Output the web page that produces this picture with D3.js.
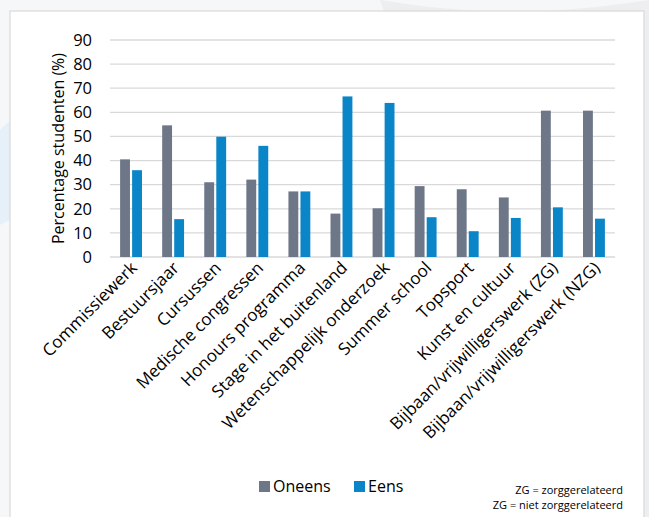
<!DOCTYPE html>
<html>
<head>
<meta charset="utf-8">
<script src="https://cdn.jsdelivr.net/npm/d3@7"></script>
<style>
  body { margin: 0; background: #eef0f2; }
  svg { display: block; font-family: "Open Sans", sans-serif; }
</style>
</head>
<body>
<svg id="chart" width="649" height="517"></svg>
<script>
var categories = ["Commissiewerk", "Bestuursjaar", "Cursussen", "Medische congressen",
    "Honours programma", "Stage in het buitenland", "Wetenschappelijk onderzoek",
    "Summer school", "Topsport", "Kunst en cultuur",
    "Bijbaan/vrijwilligerswerk (ZG)", "Bijbaan/vrijwilligerswerk (NZG)"];
var series = ["Oneens", "Eens"];
var oneens = [40.5, 54.6, 31.0, 32.1, 27.2, 18.0, 20.2, 29.4, 28.1, 24.7, 60.7, 60.7];
var eens = [36.0, 15.7, 49.9, 46.1, 27.2, 66.6, 63.9, 16.5, 10.7, 16.2, 20.6, 15.9];
var yTicks = [0, 10, 20, 30, 40, 50, 60, 70, 80, 90];
var colors = ["#6d7788", "#0a85c7"];
var notes = ["ZG = zorggerelateerd", "ZG = niet zorggerelateerd"];

var svg = d3.select("#chart");

// background decoration
svg.append("rect").attr("width", 649).attr("height", 517).attr("fill", "#f6f7f8");
svg.append("path")
    .attr("d", "M380,0 C500,20 580,10 649,0 L649,517 L560,517 Z")
    .attr("fill", "#eceef0");
svg.append("path")
    .attr("d", "M0,130 C20,110 40,100 60,95 L60,200 C40,205 20,215 0,225 Z")
    .attr("fill", "#e6f0f8");

// white panel
svg.append("rect")
    .attr("x", 10).attr("y", 11)
    .attr("width", 634).attr("height", 520)
    .attr("fill", "#ffffff")
    .attr("stroke", "#d9d9d9")
    .attr("stroke-width", 1.2);

var x0 = d3.scaleBand()
    .domain(categories)
    .range([110, 615])
    .paddingInner(0.48)
    .paddingOuter(0.24);

var x1 = d3.scaleBand()
    .domain(series)
    .range([0, x0.bandwidth()])
    .paddingInner(0.18);

var y = d3.scaleLinear()
    .domain([0, 90])
    .range([257, 40]);

// gridlines
svg.append("g")
    .selectAll("line")
    .data(yTicks)
    .enter().append("line")
    .attr("x1", 110).attr("x2", 615)
    .attr("y1", function (d) { return y(d); })
    .attr("y2", function (d) { return y(d); })
    .attr("stroke", "#d9d9d9")
    .attr("stroke-width", 1.3);

// y axis labels
var yAxis = svg.append("g")
    .attr("transform", "translate(100,0)")
    .call(d3.axisLeft(y).tickValues(yTicks).tickSize(0).tickPadding(8));
yAxis.select(".domain").remove();
yAxis.selectAll("text")
    .style("font-family", "Open Sans, sans-serif")
    .style("font-size", "16.5px")
    .attr("fill", "#000");

svg.append("text")
    .attr("transform", "translate(58," + y(45) + ") rotate(-90)")
    .attr("text-anchor", "middle")
    .attr("dy", "0.35em")
    .style("font-size", "16px")
    .text("Percentage studenten (%)");

// bars
var rows = categories.map(function (c, i) {
    return { cat: c, values: [oneens[i], eens[i]] };
});

var groups = svg.append("g")
    .selectAll("g")
    .data(rows)
    .enter().append("g")
    .attr("transform", function (d) { return "translate(" + x0(d.cat) + ",0)"; });

groups.selectAll("rect")
    .data(function (d) {
        return d.values.map(function (v, j) { return { key: series[j], value: v, j: j }; });
    })
    .enter().append("rect")
    .attr("x", function (d) { return x1(d.key); })
    .attr("width", x1.bandwidth())
    .attr("y", function (d) { return y(d.value); })
    .attr("height", function (d) { return y(0) - y(d.value); })
    .attr("fill", function (d) { return colors[d.j]; });

// category labels
svg.append("g")
    .selectAll("text")
    .data(categories)
    .enter().append("text")
    .attr("transform", function (d) {
        return "translate(" + (x0(d) + x0.bandwidth() / 2 + 7) + ",269) rotate(-45)";
    })
    .attr("text-anchor", "end")
    .style("font-size", "17px")
    .text(function (d) { return d; });

// legend
var legend = svg.append("g");
var legendX = [259, 354];
series.forEach(function (s, i) {
    legend.append("rect")
        .attr("x", legendX[i]).attr("y", 481)
        .attr("width", 11).attr("height", 11)
        .attr("fill", colors[i]);
    legend.append("text")
        .attr("x", legendX[i] + 14).attr("y", 492)
        .style("font-size", "16px")
        .text(s);
});

// footnote
svg.append("g")
    .selectAll("text")
    .data(notes)
    .enter().append("text")
    .attr("x", 623)
    .attr("y", function (d, i) { return 494 + i * 14.5; })
    .attr("text-anchor", "end")
    .style("font-size", "11px")
    .text(function (d) { return d; });
</script>
</body>
</html>
